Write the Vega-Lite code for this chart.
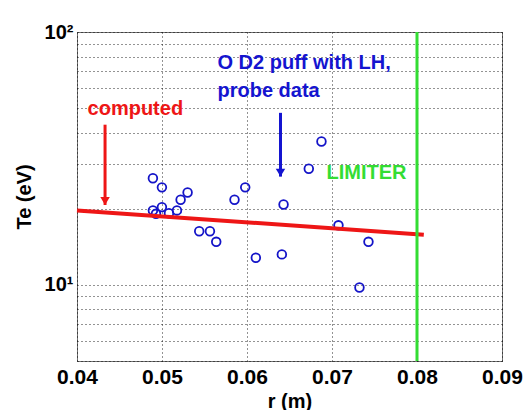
{
  "$schema": "https://vega.github.io/schema/vega-lite/v6.json",
  "width": 425,
  "height": 329,
  "autosize": {"type": "none"},
  "padding": {"left": 77, "top": 32, "right": 24, "bottom": 49},
  "background": "white",
  "config": {
    "view": {"stroke": "#707070", "strokeWidth": 1},
    "font": "Liberation Sans",
    "axis": {
      "labelFont": "Liberation Sans",
      "labelFontWeight": "bold",
      "labelColor": "black",
      "titleFont": "Liberation Sans",
      "titleFontWeight": "bold",
      "titleColor": "black",
      "titleFontSize": 20,
      "domain": false,
      "ticks": false,
      "tickSize": 0,
      "grid": true,
      "gridColor": "black",
      "gridDash": [1, 3],
      "gridWidth": 1,
      "gridOpacity": 0.85
    }
  },
  "datasets": {
    "probe": [
      {"r": 0.04893, "te": 26.4},
      {"r": 0.04999, "te": 24.3},
      {"r": 0.05301, "te": 23.2},
      {"r": 0.05219, "te": 21.7},
      {"r": 0.04893, "te": 19.7},
      {"r": 0.04929, "te": 19.1},
      {"r": 0.04999, "te": 20.3},
      {"r": 0.05082, "te": 19.2},
      {"r": 0.05176, "te": 19.7},
      {"r": 0.05438, "te": 16.3},
      {"r": 0.05564, "te": 16.3},
      {"r": 0.05638, "te": 14.8},
      {"r": 0.05853, "te": 21.7},
      {"r": 0.05979, "te": 24.3},
      {"r": 0.06104, "te": 12.8},
      {"r": 0.0641, "te": 13.2},
      {"r": 0.0643, "te": 20.8},
      {"r": 0.06727, "te": 28.8},
      {"r": 0.06876, "te": 36.9},
      {"r": 0.07076, "te": 17.2},
      {"r": 0.07429, "te": 14.8},
      {"r": 0.07323, "te": 9.76}
    ],
    "computed": [
      {"r": 0.04, "te": 19.7},
      {"r": 0.0808, "te": 15.8}
    ],
    "limiter": [
      {"r": 0.08}
    ],
    "arrows": [
      {"series": "computed", "r": 0.0433, "top": 43.0, "tip": 20.7},
      {"series": "probe", "r": 0.06394, "top": 47.9, "tip": 26.8}
    ],
    "labels": [
      {"series": "computed", "r": 0.04124, "te": 49.6, "text": "computed"},
      {"series": "probe", "r": 0.05653, "te": 75.1, "text": "O D2 puff with LH,"},
      {"series": "probe", "r": 0.05653, "te": 58.7, "text": "probe data"},
      {"series": "limiter", "r": 0.06935, "te": 27.6, "text": "LIMITER"}
    ]
  },
  "layer": [
    {
      "data": {"name": "probe"},
      "mark": {"type": "point", "shape": "circle", "filled": false, "stroke": "#1414c8", "strokeWidth": 1.8, "size": 75, "opacity": 1},
      "encoding": {
        "x": {
          "field": "r", "type": "quantitative",
          "scale": {"domain": [0.04, 0.09], "nice": false, "zero": false},
          "axis": {
            "title": "r (m)",
            "values": [0.04, 0.05, 0.06, 0.07, 0.08, 0.09],
            "format": ".2f",
            "labelFontSize": 21,
            "labelPadding": 5,
            "labelBaseline": "top",
            "labelFlush": false,
            "titleY": 46,
            "titleBaseline": "alphabetic"
          }
        },
        "y": {
          "field": "te", "type": "quantitative",
          "scale": {"type": "log", "domain": [5, 100], "nice": false},
          "axis": {
            "title": "Te (eV)",
            "values": [5, 6, 7, 8, 9, 10, 20, 30, 40, 50, 60, 70, 80, 90, 100],
            "labelExpr": "datum.value == 10 ? '10¹' : (datum.value == 100 ? '10²' : '')",
            "labelFontSize": 20,
            "labelPadding": 4,
            "labelFlush": false,
            "labelOverlap": false,
            "titleX": -53,
            "titleBaseline": "middle"
          }
        }
      }
    },
    {
      "data": {"name": "computed"},
      "mark": {"type": "line", "color": "#ee1616", "strokeWidth": 4},
      "encoding": {
        "x": {"field": "r", "type": "quantitative"},
        "y": {"field": "te", "type": "quantitative"}
      }
    },
    {
      "data": {"name": "limiter"},
      "mark": {"type": "rule", "color": "#33dd33", "strokeWidth": 3},
      "encoding": {
        "x": {"field": "r", "type": "quantitative"}
      }
    },
    {
      "data": {"name": "arrows"},
      "mark": {"type": "rule", "strokeWidth": 3},
      "encoding": {
        "x": {"field": "r", "type": "quantitative"},
        "y": {"field": "top", "type": "quantitative"},
        "y2": {"field": "tip"},
        "color": {"field": "series", "type": "nominal", "scale": {"domain": ["computed", "probe", "limiter"], "range": ["#ee1616", "#1414d0", "#33dd33"]}, "legend": null}
      }
    },
    {
      "data": {"name": "arrows"},
      "mark": {"type": "point", "shape": "M-0.6,-1L0.6,-1L0,0Z", "filled": true, "size": 250, "opacity": 1, "strokeWidth": 0},
      "encoding": {
        "x": {"field": "r", "type": "quantitative"},
        "y": {"field": "tip", "type": "quantitative"},
        "color": {"field": "series", "type": "nominal", "legend": null}
      }
    },
    {
      "data": {"name": "labels"},
      "mark": {"type": "text", "align": "left", "baseline": "middle", "font": "Liberation Sans", "fontWeight": "bold", "fontSize": 20},
      "encoding": {
        "x": {"field": "r", "type": "quantitative"},
        "y": {"field": "te", "type": "quantitative"},
        "text": {"field": "text"},
        "color": {"field": "series", "type": "nominal", "legend": null}
      }
    }
  ]
}
